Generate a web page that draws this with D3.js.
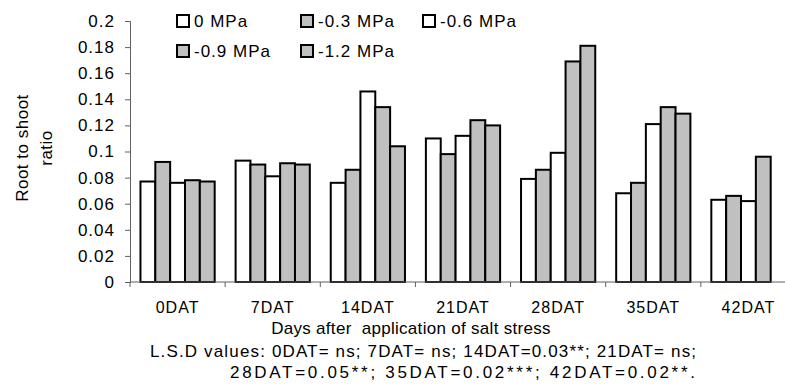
<!DOCTYPE html>
<html>
<head>
<meta charset="utf-8">
<script src="https://cdn.jsdelivr.net/npm/d3@7"></script>
<style>
  body { margin: 0; background: #fff; }
  text { font-family: "Liberation Sans", Arial, sans-serif; fill: #000; }
</style>
</head>
<body>
<svg id="chart" width="785" height="389"></svg>
<script>
// days after treatment
const days = ["0DAT", "7DAT", "14DAT", "21DAT", "28DAT", "35DAT", "42DAT"];
const treatments = ["0 MPa", "-0.3 MPa", "-0.6 MPa", "-0.9 MPa", "-1.2 MPa"];
const fills = ["#ffffff", "#c0c0c0", "#ffffff", "#c0c0c0", "#c0c0c0"];

// root : shoot ratio, one array per treatment (null = no bar)
const mpa0   = [0.077, 0.093, 0.076, 0.110, 0.079, 0.068, 0.063];
const mpa03  = [0.092, 0.090, 0.086, 0.098, 0.086, 0.076, 0.066];
const mpa06  = [0.076, 0.081, 0.146, 0.112, 0.099, 0.121, 0.062];
const mpa09  = [0.078, 0.091, 0.134, 0.124, 0.169, 0.134, 0.096];
const mpa12  = [0.077, 0.090, 0.104, 0.120, 0.181, 0.129, null];
const series = [mpa0, mpa03, mpa06, mpa09, mpa12];

const yTicks = [0, 0.02, 0.04, 0.06, 0.08, 0.1, 0.12, 0.14, 0.16, 0.18, 0.2];

const svg = d3.select("#chart");
const mLeft = 130, mRight = 796, mTop = 21, mBottom = 282;

const x = d3.scaleBand().domain(days).range([mLeft, mRight])
            .paddingInner(0.22).paddingOuter(0.11);
const xs = d3.scaleBand().domain(d3.range(treatments.length)).range([0, x.bandwidth()]);
const y = d3.scaleLinear().domain([0, 0.2]).range([mBottom, mTop]);

// y axis
const yAxis = svg.append("g")
  .attr("transform", `translate(${mLeft},0)`)
  .call(d3.axisLeft(y).tickValues(yTicks).tickSize(5).tickPadding(10)
          .tickFormat(d => d3.format("~g")(d)));
yAxis.select(".domain").attr("stroke", "#606060");
yAxis.selectAll(".tick line").attr("stroke", "#606060");
yAxis.selectAll("text").style("font-size", "17px").style("letter-spacing", "1px");

// bars
const rows = [];
days.forEach((d, i) => series.forEach((s, j) => {
  if (s[i] != null) rows.push({day: d, k: j, v: s[i]});
}));

svg.append("g").selectAll("rect")
  .data(rows)
  .enter()
  .append("rect")
  .attr("x", d => x(d.day) + xs(d.k))
  .attr("y", d => y(d.v))
  .attr("width", xs.bandwidth())
  .attr("height", d => y(0) - y(d.v))
  .attr("fill", d => fills[d.k])
  .attr("stroke", "#000")
  .attr("stroke-width", 2);

// x axis (boundaries between groups)
svg.append("line")
  .attr("x1", mLeft).attr("x2", mRight)
  .attr("y1", mBottom).attr("y2", mBottom)
  .attr("stroke", "#606060");
const step = x.step();
svg.append("g").selectAll("line")
  .data(d3.range(days.length + 1))
  .enter()
  .append("line")
  .attr("x1", i => mLeft + i * step).attr("x2", i => mLeft + i * step)
  .attr("y1", mBottom).attr("y2", mBottom + 5)
  .attr("stroke", "#606060");

svg.append("g").selectAll("text")
  .data(days)
  .enter()
  .append("text")
  .attr("x", d => x(d) + x.bandwidth() / 2)
  .attr("y", 313)
  .attr("text-anchor", "middle")
  .style("font-size", "16px")
  .style("letter-spacing", "1px")
  .text(d => d);

// titles
svg.append("text")
  .attr("x", 411).attr("y", 334)
  .attr("text-anchor", "middle")
  .style("font-size", "17px")
  .style("letter-spacing", "0.3px")
  .style("white-space", "pre")
  .text("Days after  application of salt stress");

svg.append("text")
  .attr("x", 150).attr("y", 357)
  .attr("textLength", 546)
  .attr("lengthAdjust", "spacing")
  .style("font-size", "17px")
  .text("L.S.D values: 0DAT= ns; 7DAT= ns; 14DAT=0.03**; 21DAT= ns;");
svg.append("text")
  .attr("x", 230).attr("y", 378)
  .attr("textLength", 465)
  .attr("lengthAdjust", "spacing")
  .style("font-size", "17px")
  .text("28DAT=0.05**; 35DAT=0.02***; 42DAT=0.02**.");

const yt = svg.append("text")
  .attr("transform", "translate(28,148) rotate(-90)")
  .attr("text-anchor", "middle")
  .style("font-size", "17px")
  .style("letter-spacing", "0.5px");
yt.append("tspan").attr("x", 0).attr("dy", 0).text("Root to shoot");
yt.append("tspan").attr("x", 0).attr("dy", 24).text("ratio");

// legend
const legendPos = [[176, 21], [300, 21], [422, 21], [176, 51], [300, 51]];
const leg = svg.append("g").selectAll("g")
  .data(treatments)
  .enter()
  .append("g")
  .attr("transform", (d, i) => `translate(${legendPos[i][0]},${legendPos[i][1]})`);
leg.append("rect")
  .attr("x", 1).attr("y", -6)
  .attr("width", 12).attr("height", 12)
  .attr("fill", (d, i) => fills[i])
  .attr("stroke", "#000")
  .attr("stroke-width", 2);
leg.append("text")
  .attr("x", 18).attr("y", 6)
  .style("font-size", "17px")
  .style("letter-spacing", "1px")
  .text(d => d);
</script>
</body>
</html>
